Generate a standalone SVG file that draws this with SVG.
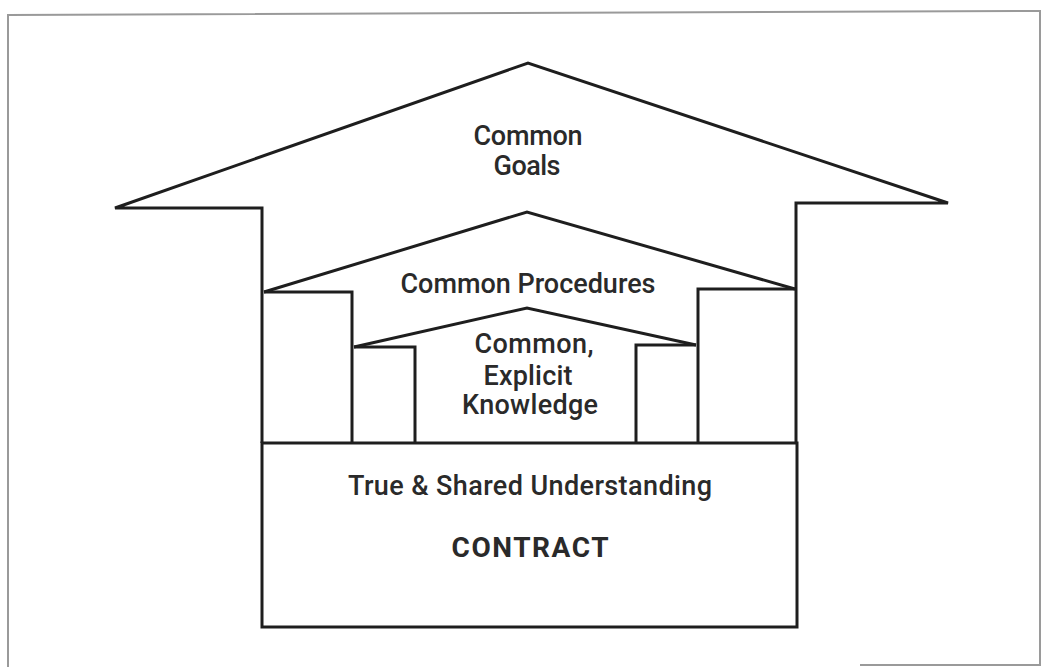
<svg xmlns="http://www.w3.org/2000/svg" width="1046" height="667" viewBox="0 0 1046 667">
  <style>
    .ln { fill: none; stroke: #1e1e1e; stroke-width: 3; stroke-linejoin: miter; }
    .lb { font-family: Roboto, "Liberation Sans", sans-serif; font-size: 27px; font-weight: 500; fill: #2a2a2a; text-anchor: middle; }
    .bold { font-weight: bold; font-size: 28px; }
  </style>
  <rect width="1046" height="667" fill="#ffffff"/>
  <!-- page frame -->
  <path d="M8,667 L8,15 L1040,11 L1040,665 L860,665" fill="none" stroke="#9a9a9a" stroke-width="2"/>

  <g id="goals">
    <path class="ln" d="M262,443 L262,208 L115,208 L528,63 L948,203 L796,203 L796,443"/>
    <text class="lb" x="528" y="145" textLength="109" lengthAdjust="spacing">Common</text>
    <text class="lb" x="527" y="175" textLength="67" lengthAdjust="spacing">Goals</text>
  </g>

  <g id="procedures">
    <path class="ln" d="M264,292 L527,212 L795,289"/>
    <path class="ln" d="M264,292 L352,292 L352,443"/>
    <path class="ln" d="M795,289 L698,289 L698,443"/>
    <text class="lb" x="528" y="293" textLength="255" lengthAdjust="spacing">Common Procedures</text>
  </g>

  <g id="knowledge">
    <path class="ln" d="M354,347 L527,308 L696,345"/>
    <path class="ln" d="M354,347 L415,347 L415,443"/>
    <path class="ln" d="M696,345 L636,345 L636,443"/>
    <text class="lb" x="534" y="353" textLength="119" lengthAdjust="spacing">Common,</text>
    <text class="lb" x="528" y="385" textLength="89" lengthAdjust="spacing">Explicit</text>
    <text class="lb" x="530" y="414" textLength="136" lengthAdjust="spacing">Knowledge</text>
  </g>

  <g id="contract">
    <rect class="ln" x="262" y="443" width="535" height="184"/>
    <text class="lb" x="530" y="495" textLength="364" lengthAdjust="spacing">True &amp; Shared Understanding</text>
    <text class="lb bold" x="530" y="557" textLength="157" lengthAdjust="spacing">CONTRACT</text>
  </g>
</svg>
